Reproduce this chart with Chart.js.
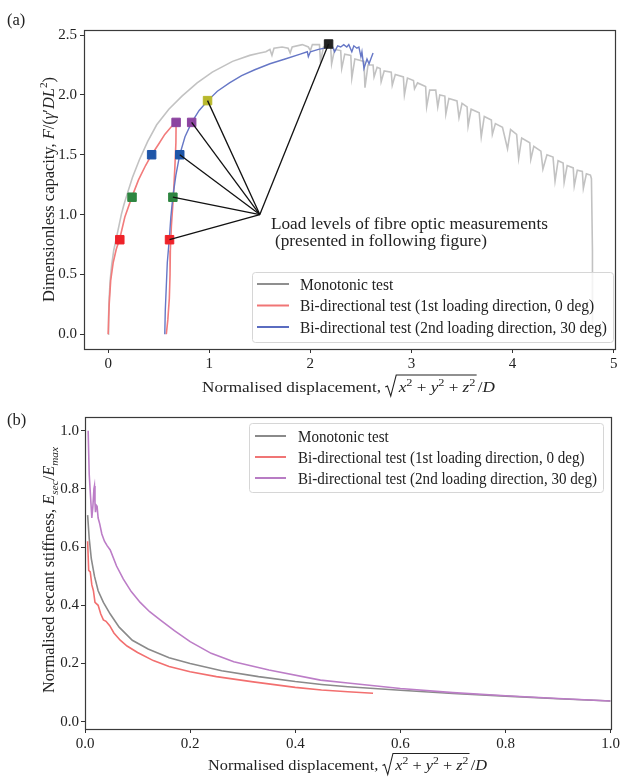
<!DOCTYPE html>
<html>
<head>
<meta charset="utf-8">
<script src="https://cdn.jsdelivr.net/npm/chart.js@4.4.1/dist/chart.umd.min.js"></script>
<style>
  html, body { margin: 0; padding: 0; background: #fff; }
  #wrap { position: relative; width: 622px; height: 778px; }
  canvas { position: absolute; left: 0; }
  #capacity { top: 0; }
  #stiffness { top: 400px; }
</style>
</head>
<body>
<div id="wrap">
  <canvas id="capacity" width="622" height="400"></canvas>
  <canvas id="stiffness" width="622" height="378"></canvas>
</div>
<script>
const seriesLabels = [
  "Monotonic test",
  "Bi-directional test (1st loading direction, 0 deg)",
  "Bi-directional test (2nd loading direction, 30 deg)",
];

// (a) force vs displacement, [x, y]
const monotonicA = [
  [0, 0], [0.004, 0.15], [0.01, 0.3], [0.02, 0.45], [0.035, 0.58], [0.055, 0.7], [0.08, 0.8],
  [0.105, 0.9], [0.13, 1.0], [0.155, 1.08], [0.18, 1.15], [0.24, 1.31], [0.31, 1.46], [0.39, 1.61],
  [0.48, 1.75], [0.6, 1.88], [0.73, 1.99], [0.88, 2.1], [1.03, 2.19], [1.23, 2.28], [1.4, 2.33],
  [1.5, 2.35], [1.56, 2.36], [1.6, 2.38], [1.62, 2.33], [1.64, 2.39], [1.72, 2.4], [1.78, 2.39],
  [1.8, 2.35], [1.82, 2.4], [1.92, 2.42], [1.98, 2.4], [2.0, 2.37], [2.02, 2.42], [2.09, 2.42],
  [2.1, 2.28], [2.13, 2.4], [2.2, 2.42], [2.21, 2.26], [2.24, 2.38], [2.3, 2.37], [2.31, 2.22],
  [2.34, 2.34], [2.4, 2.33], [2.41, 2.14], [2.44, 2.3], [2.53, 2.28], [2.54, 2.06], [2.57, 2.25],
  [2.62, 2.25], [2.63, 2.15], [2.66, 2.23], [2.69, 2.22], [2.7, 2.11], [2.73, 2.2], [2.8, 2.19],
  [2.81, 2.08], [2.84, 2.17], [2.92, 2.15], [2.93, 2.0], [2.96, 2.14], [3.02, 2.12], [3.03, 2.05],
  [3.06, 2.1], [3.14, 2.07], [3.15, 1.9], [3.18, 2.04], [3.24, 2.04], [3.26, 1.9], [3.28, 2.0],
  [3.33, 1.99], [3.34, 1.84], [3.37, 1.97], [3.45, 1.95], [3.47, 1.81], [3.5, 1.93], [3.55, 1.9],
  [3.56, 1.74], [3.59, 1.88], [3.67, 1.85], [3.69, 1.65], [3.72, 1.82], [3.79, 1.79], [3.8, 1.67],
  [3.83, 1.76], [3.9, 1.73], [3.95, 1.55], [3.98, 1.71], [4.04, 1.67], [4.06, 1.47], [4.09, 1.64],
  [4.17, 1.6], [4.18, 1.46], [4.21, 1.57], [4.28, 1.53], [4.3, 1.38], [4.34, 1.5], [4.4, 1.48],
  [4.42, 1.28], [4.45, 1.45], [4.5, 1.43], [4.51, 1.27], [4.54, 1.41], [4.6, 1.39], [4.61, 1.24],
  [4.64, 1.37], [4.69, 1.36], [4.7, 1.22], [4.73, 1.34], [4.77, 1.33], [4.78, 1.3], [4.79, 0.7],
  [4.79, 0.03],
];
const firstDirA = [
  [0, 0], [0.01, 0.25], [0.025, 0.45], [0.05, 0.6], [0.08, 0.71], [0.115, 0.8], [0.165, 0.98],
  [0.236, 1.15], [0.3, 1.29], [0.37, 1.41], [0.43, 1.5], [0.5, 1.59], [0.56, 1.67], [0.62, 1.73],
  [0.672, 1.77], [0.67, 1.6], [0.66, 1.4], [0.645, 1.15], [0.625, 0.9], [0.615, 0.7], [0.612, 0.5],
  [0.605, 0.3], [0.59, 0.12], [0.575, 0],
];
const secondDirA = [
  [0.56, 0], [0.565, 0.2], [0.575, 0.4], [0.585, 0.6], [0.605, 0.8], [0.62, 0.98], [0.64, 1.15],
  [0.67, 1.33], [0.708, 1.5], [0.76, 1.65], [0.826, 1.77], [0.9, 1.87], [0.983, 1.95], [1.08, 2.03],
  [1.2, 2.1], [1.32, 2.16], [1.45, 2.21], [1.6, 2.26], [1.75, 2.3], [1.9, 2.34], [1.97, 2.36],
  [1.98, 2.32], [2.0, 2.36], [2.08, 2.38], [2.14, 2.39], [2.18, 2.42], [2.22, 2.4], [2.24, 2.36],
  [2.27, 2.41], [2.3, 2.4], [2.33, 2.42], [2.36, 2.4], [2.38, 2.42], [2.41, 2.36], [2.43, 2.41],
  [2.46, 2.39], [2.48, 2.4], [2.5, 2.32], [2.51, 2.36], [2.53, 2.22], [2.56, 2.3], [2.58, 2.26],
  [2.62, 2.35],
];

// load levels where fibre optic readings were taken
const levelsFirst = [[0.115, 0.79], [0.236, 1.145], [0.43, 1.5], [0.672, 1.77]];
const levelsFirstColors = ["#ee2229", "#2e8540", "#1f56a8", "#8c44a0"];
const levelsSecond = [[0.607, 0.79], [0.64, 1.145], [0.708, 1.5], [0.826, 1.77], [0.983, 1.952], [2.18, 2.425]];
const levelsSecondColors = ["#ee2229", "#2e8540", "#1f56a8", "#8c44a0", "#b8b82c", "#222222"];
const connectorOrigin = [1.5, 1.0];
const noteLines = ["Load levels of fibre optic measurements", "(presented in following figure)"];
const notePos = [[1.61, 0.88], [1.65, 0.74]];

// (b) secant stiffness vs displacement, [x, y]
const monotonicB = [
  [0.005, 0.71], [0.008, 0.63], [0.012, 0.56], [0.018, 0.5], [0.025, 0.45], [0.035, 0.41],
  [0.048, 0.37], [0.065, 0.325], [0.09, 0.28], [0.12, 0.25], [0.16, 0.22], [0.2, 0.2],
  [0.26, 0.175], [0.33, 0.155], [0.4, 0.138], [0.45, 0.128], [0.5, 0.12], [0.6, 0.108],
  [0.7, 0.097], [0.8, 0.088], [0.9, 0.079], [1.0, 0.071],
];
const firstDirB = [
  [0.005, 0.62], [0.007, 0.52], [0.01, 0.515], [0.013, 0.47], [0.016, 0.45], [0.019, 0.41],
  [0.025, 0.4], [0.03, 0.37], [0.035, 0.35], [0.04, 0.345], [0.047, 0.33], [0.055, 0.305],
  [0.067, 0.28], [0.08, 0.26], [0.1, 0.238], [0.13, 0.21], [0.16, 0.19], [0.2, 0.172],
  [0.25, 0.155], [0.32, 0.137], [0.4, 0.118], [0.45, 0.109], [0.5, 0.103], [0.548, 0.098],
];
const secondDirB = [
  [0.006, 1.0], [0.008, 0.85], [0.011, 0.76], [0.013, 0.7], [0.015, 0.74], [0.017, 0.8],
  [0.018, 0.81], [0.019, 0.75], [0.02, 0.72], [0.021, 0.745], [0.023, 0.74], [0.025, 0.7],
  [0.028, 0.68], [0.032, 0.645], [0.037, 0.62], [0.042, 0.605], [0.048, 0.59], [0.06, 0.535],
  [0.073, 0.49], [0.088, 0.447], [0.105, 0.41], [0.123, 0.378], [0.143, 0.35], [0.17, 0.313],
  [0.2, 0.275], [0.24, 0.235], [0.283, 0.206], [0.35, 0.178], [0.448, 0.143], [0.5, 0.133],
  [0.6, 0.114], [0.7, 0.1], [0.8, 0.089], [0.9, 0.08], [1.0, 0.071],
];

const xTicksA = [0, 1, 2, 3, 4, 5];
const yTicksA = [0, 0.5, 1, 1.5, 2, 2.5];
const xTicksB = [0, 0.2, 0.4, 0.6, 0.8, 1.0];
const yTicksB = [0, 0.2, 0.4, 0.6, 0.8, 1.0];

const SERIF = '"Liberation Serif", "Times New Roman", serif';
const INK = "#222";

const toXY = (pts) => pts.map(([x, y]) => ({ x, y }));

const line = (label, pts, color, order, width = 1.6) => ({
  label,
  data: toXY(pts),
  showLine: true,
  borderColor: color,
  borderWidth: width,
  pointRadius: 0,
  tension: 0,
  order,
});

const markers = (pts, colors, order) => ({
  label: "levels",
  data: toXY(pts),
  showLine: false,
  pointStyle: "rect",
  pointRadius: 6,
  backgroundColor: colors,
  borderColor: colors,
  borderWidth: 1,
  order,
});

function scaleOpts(min, max, tickValues, fmt, fit, pad) {
  return {
    type: "linear",
    min,
    max,
    afterBuildTicks: (s) => {
      s.ticks = tickValues.map((value) => ({ value }));
    },
    afterFit: (s) => {
      if (s.isHorizontal()) s.height = fit;
      else s.width = fit;
    },
    grid: { drawOnChartArea: false, drawTicks: true, tickLength: 4, tickColor: "#333", tickWidth: 1 },
    border: { display: false },
    ticks: {
      color: INK,
      font: { family: SERIF, size: 15 },
      padding: pad,
      autoSkip: false,
      maxRotation: 0,
      callback: fmt,
    },
  };
}

// text made of pieces with different fonts (math labels)
const r = (t, px) => ({ t, font: `${px}px ${SERIF}` });
const it = (t, px) => ({ t, font: `italic ${px}px ${SERIF}` });
const sup = (t, px) => ({ t, font: `${Math.round(px * 0.7)}px ${SERIF}`, dy: -px * 0.42 });
const sub = (t, px) => ({ t, font: `italic ${Math.round(px * 0.7)}px ${SERIF}`, dy: px * 0.24 });

function richWidth(ctx, segs) {
  let w = 0;
  for (const s of segs) {
    if (s.w) w += s.w;
    else if (s.t) {
      ctx.font = s.font;
      w += ctx.measureText(s.t).width;
    }
  }
  return w;
}

function drawRich(ctx, segs, cx, base, target) {
  const w = richWidth(ctx, segs);
  const k = target ? target / w : 1;
  ctx.save();
  ctx.translate(cx - (w * k) / 2, base);
  ctx.scale(k, 1);
  ctx.fillStyle = INK;
  ctx.strokeStyle = INK;
  ctx.textAlign = "left";
  ctx.textBaseline = "alphabetic";
  let x = 0;
  let radX = 0;
  for (const s of segs) {
    if (s.rad) {
      radX = x;
      x += s.w;
      continue;
    }
    if (s.radEnd) {
      ctx.beginPath();
      ctx.lineWidth = 0.9;
      ctx.moveTo(radX, -4.5);
      ctx.lineTo(radX + 1.8, -5.5);
      ctx.lineTo(radX + 4.5, 4.5);
      ctx.lineTo(radX + 9, -16.5);
      ctx.lineTo(x + 1, -16.5);
      ctx.stroke();
      continue;
    }
    if (s.w) {
      x += s.w;
      continue;
    }
    ctx.font = s.font;
    ctx.fillText(s.t, x, s.dy || 0);
    x += ctx.measureText(s.t).width;
  }
  ctx.restore();
}

function drawVertical(ctx, segs, baseX, cy, target) {
  ctx.save();
  ctx.translate(baseX, cy);
  ctx.rotate(-Math.PI / 2);
  drawRich(ctx, segs, 0, 0, target);
  ctx.restore();
}

const dispTitle = (px) => [
  r("Normalised displacement, ", px), { rad: true, w: 11 },
  it("x", px), sup("2", px), r(" + ", px), it("y", px), sup("2", px), r(" + ", px), it("z", px), sup("2", px),
  { radEnd: true }, { w: 2 }, r("/", px), it("D", px),
];

function drawFrame(ctx, a) {
  ctx.strokeStyle = "#3a3a3a";
  ctx.lineWidth = 1.2;
  ctx.strokeRect(Math.round(a.left) + 0.5, Math.round(a.top) + 0.5,
    Math.round(a.right - a.left), Math.round(a.bottom - a.top));
}

function drawLegend(ctx, box, entries, hx0, hx1, textX, target) {
  const { x, y, w, h } = box;
  const rad = 3;
  ctx.beginPath();
  ctx.moveTo(x + rad, y);
  ctx.arcTo(x + w, y, x + w, y + h, rad);
  ctx.arcTo(x + w, y + h, x, y + h, rad);
  ctx.arcTo(x, y + h, x, y, rad);
  ctx.arcTo(x, y, x + w, y, rad);
  ctx.closePath();
  ctx.fillStyle = "rgba(255,255,255,0.8)";
  ctx.fill();
  ctx.strokeStyle = "#d6d6d6";
  ctx.lineWidth = 1;
  ctx.stroke();

  ctx.font = `16px ${SERIF}`;
  const longest = Math.max(...entries.map((e) => ctx.measureText(e.label).width));
  const k = target / longest;
  entries.forEach((e) => {
    ctx.strokeStyle = e.color;
    ctx.lineWidth = 2;
    ctx.beginPath();
    ctx.moveTo(hx0, e.y);
    ctx.lineTo(hx1, e.y);
    ctx.stroke();
    ctx.save();
    ctx.translate(textX, e.y + 5.5);
    ctx.scale(k, 1);
    ctx.fillStyle = INK;
    ctx.textAlign = "left";
    ctx.fillText(e.label, 0, 0);
    ctx.restore();
  });
}

function panelLabel(ctx, text) {
  ctx.font = `16.5px ${SERIF}`;
  ctx.fillStyle = INK;
  ctx.textAlign = "left";
  ctx.fillText(text, 7, 25);
}

// ---------- (a) capacity ----------
const capacityDecor = {
  id: "capacityDecor",
  afterDraw(chart) {
    const ctx = chart.ctx;
    const sx = chart.scales.x;
    const sy = chart.scales.y;
    ctx.save();
    drawFrame(ctx, chart.chartArea);

    ctx.font = `17.5px ${SERIF}`;
    const k = 277 / ctx.measureText(noteLines[0]).width;
    noteLines.forEach((txt, i) => {
      ctx.save();
      ctx.translate(sx.getPixelForValue(notePos[i][0]), sy.getPixelForValue(notePos[i][1]));
      ctx.scale(k, 1);
      ctx.fillStyle = INK;
      ctx.textAlign = "left";
      ctx.fillText(txt, 0, 0);
      ctx.restore();
    });

    drawLegend(ctx, { x: 252.5, y: 272.5, w: 361, h: 70 }, [
      { label: seriesLabels[0], color: "#8f8f8f", y: 284 },
      { label: seriesLabels[1], color: "#f07575", y: 305.5 },
      { label: seriesLabels[2], color: "#5a6cc0", y: 327 },
    ], 257, 289, 300, 307);

    drawRich(ctx, dispTitle(14), 348.5, 391.5, 293);
    drawVertical(ctx, [
      r("Dimensionless capacity, ", 16), it("F", 16), r("/(", 16), it("γ", 16), r("′", 16),
      it("DL", 16), sup("2", 16), r(")", 16),
    ], 54, 189.5, 225);
    panelLabel(ctx, "(a)");
    ctx.restore();
  },
};

new Chart(document.getElementById("capacity"), {
  type: "scatter",
  data: {
    datasets: [
      line(seriesLabels[0], monotonicA, "#c2c2c2", 6),
      line(seriesLabels[1], firstDirA, "#f27b7b", 5),
      line(seriesLabels[2], secondDirA, "#6677c6", 4, 1.4),
      markers(levelsFirst, levelsFirstColors, 3),
      markers(levelsSecond, levelsSecondColors, 2),
      ...levelsSecond.map((p) => ({
        label: "connector",
        data: toXY([connectorOrigin, p]),
        showLine: true,
        borderColor: "#111",
        borderWidth: 1.3,
        pointRadius: 0,
        order: 1,
      })),
    ],
  },
  options: {
    responsive: false,
    animation: false,
    events: [],
    layout: { padding: { top: 30, right: 4, bottom: 0, left: 0 } },
    plugins: { legend: { display: false }, tooltip: { enabled: false } },
    scales: {
      x: scaleOpts(-0.239, 5.013, xTicksA, (v) => String(v), 51, 2),
      y: scaleOpts(-0.123, 2.542, yTicksA, (v) => v.toFixed(1), 84, 3),
    },
  },
  plugins: [capacityDecor],
});

// ---------- (b) stiffness ----------
const stiffnessDecor = {
  id: "stiffnessDecor",
  afterDraw(chart) {
    const ctx = chart.ctx;
    ctx.save();
    drawFrame(ctx, chart.chartArea);
    drawLegend(ctx, { x: 249.5, y: 23.5, w: 354, h: 69 }, [
      { label: seriesLabels[0], color: "#8a8a8a", y: 36 },
      { label: seriesLabels[1], color: "#f07575", y: 57 },
      { label: seriesLabels[2], color: "#b87cc4", y: 78 },
    ], 255, 286, 298, 299);
    drawRich(ctx, dispTitle(14), 347.5, 370, 279);
    drawVertical(ctx, [
      r("Normalised secant stiffness, ", 16), it("E", 16), sub("sec", 16), r("/", 16),
      it("E", 16), sub("max", 16),
    ], 54, 170, 246);
    panelLabel(ctx, "(b)");
    ctx.restore();
  },
};

new Chart(document.getElementById("stiffness"), {
  type: "scatter",
  data: {
    datasets: [
      line(seriesLabels[0], monotonicB, "#8a8a8a", 3),
      line(seriesLabels[1], firstDirB, "#f26f6f", 2),
      line(seriesLabels[2], secondDirB, "#bc7dc7", 1),
    ],
  },
  options: {
    responsive: false,
    animation: false,
    events: [],
    layout: { padding: { top: 17, right: 11, bottom: 0, left: 0 } },
    plugins: { legend: { display: false }, tooltip: { enabled: false } },
    scales: {
      x: scaleOpts(0, 1.0, xTicksB, (v) => v.toFixed(1), 49, 2),
      y: scaleOpts(-0.025, 1.047, yTicksB, (v) => v.toFixed(1), 85, 2),
    },
  },
  plugins: [stiffnessDecor],
});
</script>
</body>
</html>
